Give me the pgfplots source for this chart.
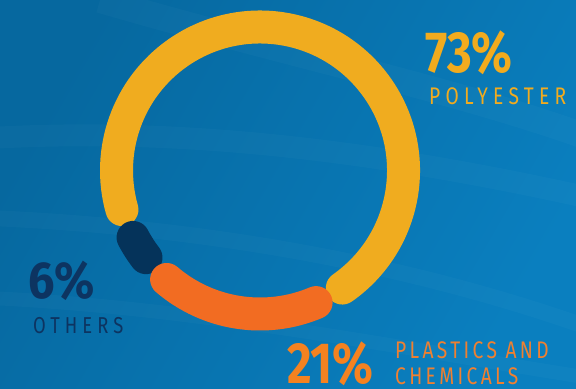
\documentclass[border=0pt]{standalone}
\usepackage{pgfplots}
\pgfplotsset{compat=1.18}
\usepackage{pgfplotstable}
\usepackage{graphicx}
\usepackage{fontspec}
\setmainfont{Fira Sans}
\newfontfamily\numfont[FakeStretch=0.82]{Fira Sans}
\newfontfamily\labfont[FakeStretch=0.8,LetterSpace=14]{Fira Sans}
\newfontfamily\labfontw[FakeStretch=0.8,LetterSpace=22]{Fira Sans}
\definecolor{bgdark}{HTML}{06689F}
\definecolor{bglight}{HTML}{0A7FBF}
\definecolor{ringY}{HTML}{F0AC1F}
\definecolor{ringO}{HTML}{F26C22}
\definecolor{ringN}{HTML}{05335A}
\definecolor{txtY}{HTML}{F2AB1E}
\definecolor{txtO}{HTML}{F58220}
\definecolor{labO}{HTML}{F08030}
\definecolor{txtN}{HTML}{0D3461}

\pgfplotstableread{
label value
Polyester 73
Others 6
Plastics 21
}\shares

\begin{document}
\begin{tikzpicture}[x=1bp,y=1bp]
\pgfplotstablegetelem{0}{value}\of\shares \pgfmathsetmacro\vA{\pgfplotsretval}
\pgfplotstablegetelem{1}{value}\of\shares \pgfmathsetmacro\vB{\pgfplotsretval}
\pgfplotstablegetelem{2}{value}\of\shares \pgfmathsetmacro\vC{\pgfplotsretval}
\pgfmathsetmacro\st{299}
\pgfmathsetmacro\gp{12}
\pgfmathsetmacro\aS{\st+\gp/2}
\pgfmathsetmacro\aE{\st+\vA*3.6-\gp/2}
\pgfmathsetmacro\bS{\st+\vA*3.6+\gp/2}
\pgfmathsetmacro\bE{\st+(\vA+\vB)*3.6-\gp/2}
\pgfmathsetmacro\cS{\st+(\vA+\vB)*3.6+\gp/2}
\pgfmathsetmacro\cE{\st+(\vA+\vB+\vC)*3.6-\gp/2}
\pgfmathsetmacro\cx{260}
\pgfmathsetmacro\cy{217.5}
\pgfmathsetmacro\rr{143.5}
\useasboundingbox (0,0) rectangle (576,388);
\clip (0,0) rectangle (576,388);
\shade[left color=bgdark, right color=bglight, shading angle=60] (0,0) rectangle (576,388);
\begin{scope}[white, opacity=0.025]
\draw[line width=22] (-10,250) .. controls (200,262) and (400,232) .. (590,190);
\draw[line width=16] (-10,170) .. controls (220,160) and (420,120) .. (590,60);
\draw[line width=26] (100,388) .. controls (300,330) and (450,300) .. (590,250);
\draw[line width=14] (-10,90) .. controls (200,80) and (400,40) .. (590,10);
\end{scope}
\begin{axis}[at={(0,0)}, anchor=south west, scale only axis,
  width=576bp, height=388bp, xmin=0, xmax=576, ymin=0, ymax=388,
  axis lines=none, clip=false]
\draw[ringY, line width=33bp, line cap=round]
  (axis cs:{\cx+\rr*cos(\aS)},{\cy+\rr*sin(\aS)}) arc[start angle=\aS, end angle=\aE, radius=143.5bp];
\draw[ringN, line width=33bp, line cap=round]
  (axis cs:{\cx+\rr*cos(\bS)},{\cy+\rr*sin(\bS)}) arc[start angle=\bS, end angle=\bE, radius=143.5bp];
\draw[ringO, line width=33bp, line cap=round]
  (axis cs:{\cx+\rr*cos(\cS)},{\cy+\rr*sin(\cS)}) arc[start angle=\cS, end angle=\cE, radius=143.5bp];
\node[anchor=base west, inner sep=0, text=txtY] at (axis cs:425,315)
  {\fontsize{58bp}{60bp}\selectfont\numfont\bfseries 73\%};
\node[anchor=base west, inner sep=0, text=txtY] at (axis cs:429,283)
  {\fontsize{24bp}{26bp}\selectfont\labfontw POLYESTER};
\node[anchor=base west, inner sep=0, text=txtN] at (axis cs:28,90)
  {\scalebox{1.1}[1]{\fontsize{52bp}{54bp}\selectfont\numfont\bfseries 6\%}};
\node[anchor=base west, inner sep=0, text=txtN] at (axis cs:33,55)
  {\fontsize{23bp}{25bp}\selectfont\labfontw OTHERS};
\node[anchor=base west, inner sep=0, text=txtO] at (axis cs:287,5)
  {\fontsize{58bp}{60bp}\selectfont\numfont\bfseries 21\%};
\node[anchor=base west, inner sep=0, text=labO] at (axis cs:395,30)
  {\fontsize{24bp}{26bp}\selectfont\labfont PLASTICS AND};
\node[anchor=base west, inner sep=0, text=labO] at (axis cs:395,4)
  {\fontsize{24bp}{26bp}\selectfont\labfont CHEMICALS};
\end{axis}
\end{tikzpicture}
\end{document}
